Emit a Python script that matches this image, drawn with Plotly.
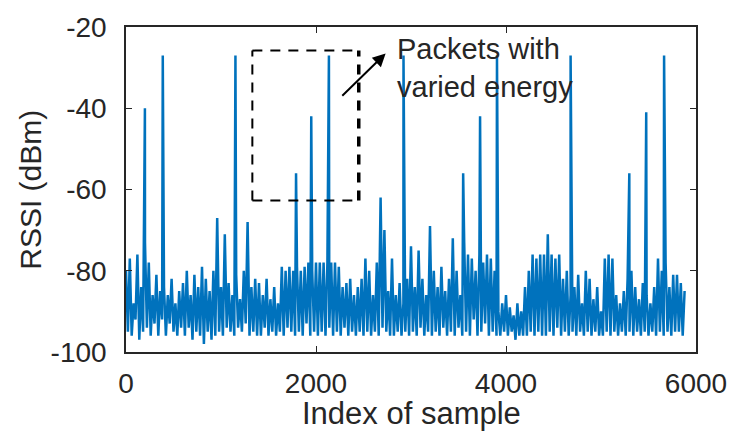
import plotly.graph_objects as go

# Sample step for the background noise (every 20th sample)
noise_step = 20
noise_rssi = [
    -80, -95, -77, -96, -88, -92, -76, -97, -84, -95,
    -73, -94, -78, -96, -86, -93, -81, -96, -85, -92,
    -84, -96, -86, -93, -82, -95, -88, -96, -85, -94,
    -83, -96, -80, -94, -86, -97, -81, -95, -84, -96,
    -79, -98, -82, -95, -85, -97, -80, -96, -67, -95,
    -84, -96, -71, -94, -83, -95, -86, -96, -81, -94,
    -87, -95, -80, -93, -68, -96, -84, -95, -82, -96,
    -83, -96, -86, -94, -82, -96, -87, -95, -84, -96,
    -88, -95, -79, -96, -80, -94, -79, -95, -80, -96,
    -79, -95, -80, -96, -79, -93, -78, -96, -80, -95,
    -78, -96, -78, -95, -78, -96, -78, -94, -78, -96,
    -78, -95, -79, -96, -84, -94, -83, -96, -82, -95,
    -86, -96, -84, -95, -82, -96, -77, -95, -80, -96,
    -86, -95, -78, -96, -62, -94, -70, -95, -85, -96,
    -77, -96, -86, -95, -83, -96, -88, -95, -82, -96,
    -74, -95, -84, -96, -75, -94, -82, -96, -86, -95,
    -69, -96, -80, -95, -84, -96, -79, -94, -85, -96,
    -82, -95, -72, -96, -80, -94, -86, -96, -73, -95,
    -76, -96, -77, -92, -80, -96, -76, -95, -78, -93,
    -76, -96, -77, -95, -80, -96, -90, -96, -88, -95,
    -86, -96, -89, -95, -91, -97, -88, -96, -90, -96,
    -84, -96, -80, -95, -76, -96, -77, -95, -76, -96,
    -76, -96, -71, -95, -76, -96, -77, -94, -76, -96,
    -82, -95, -80, -96, -86, -95, -84, -96, -81, -95,
    -88, -96, -80, -95, -82, -96, -87, -95, -84, -96,
    -90, -96, -77, -95, -76, -96, -77, -95, -86, -96,
    -88, -95, -85, -96, -82, -95, -80, -96, -84, -95,
    -87, -96, -83, -95, -86, -96, -88, -95, -84, -96,
    -77, -95, -80, -96, -78, -95, -84, -96, -81, -95,
    -81, -95, -83, -96, -85,
]

# Packets with varied energy (spikes)
spike_index = [199, 387, 1152, 1790, 1950, 2136, 2921, 3549, 3727, 3905, 4680, 5298, 5476, 5664]
spike_rssi = [-40, -27, -27, -56, -42, -27, -27, -56, -42, -27, -27, -56, -41, -27]

# Highlight box and arrow (data coordinates)
box_x = [1330, 2450]
box_y = [-62.7, -25.8]
arrow_tail = (2261, -37.3)
arrow_head = (2733, -26.5)

x_ticks = [0, 2000, 4000, 6000]
x_tick_text = ["0", "2000", "4000", "6000"]
y_ticks = [-100, -80, -60, -40, -20]
y_tick_text = ["-100", "-80", "-60", "-40", "-20"]

points = [(i * noise_step, v) for i, v in enumerate(noise_rssi)]
points += list(zip(spike_index, spike_rssi))
points.sort(key=lambda p: p[0])
xs = [p[0] for p in points]
ys = [p[1] for p in points]

TXT = "#262626"
FONT = "Liberation Sans, Arial, sans-serif"

fig = go.Figure()
fig.add_trace(go.Scatter(x=xs, y=ys, mode="lines",
                         line=dict(color="#0072BD", width=2.5),
                         showlegend=False))

axis_common = dict(showline=True, linecolor="#262626", linewidth=1.5,
                   mirror="ticks", ticks="inside", ticklen=6, tickwidth=1.2,
                   tickcolor="#262626", showgrid=False, zeroline=False,
                   tickfont=dict(family=FONT, size=28, color=TXT))

fig.update_xaxes(range=[0, 6000], tickvals=x_ticks, ticktext=x_tick_text,
                 ticklabelstandoff=6, **axis_common)
fig.update_yaxes(range=[-100, -20], tickvals=y_ticks, ticktext=y_tick_text,
                 ticklabelstandoff=12, **axis_common)

dash_thin = dict(color="black", width=2, dash="10px,8px")
dash_thick = dict(color="black", width=3.5, dash="10px,8px")
fig.add_shape(type="line", x0=box_x[0], x1=box_x[1], y0=box_y[1], y1=box_y[1], line=dash_thin)
fig.add_shape(type="line", x0=box_x[0], x1=box_x[1], y0=box_y[0], y1=box_y[0], line=dash_thin)
fig.add_shape(type="line", x0=box_x[0], x1=box_x[0], y0=box_y[0], y1=box_y[1], line=dash_thin)
fig.add_shape(type="line", x0=box_x[1], x1=box_x[1], y0=box_y[0], y1=box_y[1], line=dash_thick)

fig.add_annotation(x=arrow_head[0], y=arrow_head[1], ax=arrow_tail[0], ay=arrow_tail[1],
                   xref="x", yref="y", axref="x", ayref="y", text="",
                   showarrow=True, arrowhead=2, arrowsize=1.3, arrowwidth=2,
                   arrowcolor="black")
fig.add_annotation(x=2830, y=-21.0, xref="x", yref="y", xanchor="left", yanchor="top",
                   text="Packets with<br>varied energy", showarrow=False, align="left",
                   font=dict(family=FONT, size=29, color=TXT))

fig.add_annotation(x=0.5, y=-0.19, xref="paper", yref="paper", xanchor="center",
                   yanchor="middle", text="Index of sample", showarrow=False,
                   font=dict(family=FONT, size=31, color=TXT))
fig.add_annotation(x=-0.168, y=0.5, xref="paper", yref="paper", xanchor="center",
                   yanchor="middle", text="RSSI (dBm)", showarrow=False, textangle=-90,
                   font=dict(family=FONT, size=30, color=TXT))

fig.update_layout(width=739, height=434,
                  margin=dict(l=126, r=40, t=19, b=82),
                  paper_bgcolor="white", plot_bgcolor="white")

fig.write_html("out.html")
